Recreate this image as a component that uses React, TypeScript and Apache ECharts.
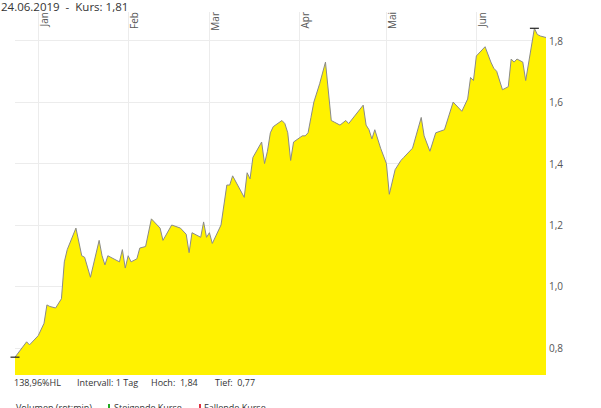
import React, { useEffect, useRef } from "react";
import * as echarts from "echarts";

const dates = [
  "2018-12-24", "2018-12-28", "2018-12-29", "2019-01-01", "2019-01-03", "2019-01-04", "2019-01-05",
  "2019-01-07", "2019-01-09", "2019-01-10", "2019-01-11", "2019-01-14", "2019-01-16", "2019-01-17",
  "2019-01-19", "2019-01-22", "2019-01-23", "2019-01-24", "2019-01-25", "2019-01-29", "2019-01-30",
  "2019-01-31", "2019-02-01", "2019-02-02", "2019-02-04", "2019-02-05", "2019-02-07", "2019-02-09",
  "2019-02-12", "2019-02-13", "2019-02-16", "2019-02-19", "2019-02-21", "2019-02-22", "2019-02-23",
  "2019-02-26", "2019-02-27", "2019-02-28", "2019-03-01", "2019-03-02", "2019-03-05", "2019-03-07",
  "2019-03-08", "2019-03-09", "2019-03-13", "2019-03-14", "2019-03-15", "2019-03-16", "2019-03-19",
  "2019-03-20", "2019-03-21", "2019-03-22", "2019-03-23", "2019-03-26", "2019-03-27", "2019-03-28",
  "2019-03-29", "2019-03-30", "2019-04-02", "2019-04-03", "2019-04-04", "2019-04-05", "2019-04-06",
  "2019-04-08", "2019-04-10", "2019-04-12", "2019-04-13", "2019-04-15", "2019-04-17", "2019-04-18",
  "2019-04-23", "2019-04-24", "2019-04-25", "2019-04-26", "2019-04-27", "2019-04-29", "2019-05-01",
  "2019-05-02", "2019-05-04", "2019-05-06", "2019-05-07", "2019-05-10", "2019-05-13", "2019-05-14",
  "2019-05-16", "2019-05-18", "2019-05-21", "2019-05-24", "2019-05-27", "2019-05-29", "2019-05-30",
  "2019-05-31", "2019-06-01", "2019-06-04", "2019-06-06", "2019-06-07", "2019-06-08", "2019-06-10",
  "2019-06-12", "2019-06-13", "2019-06-14", "2019-06-15", "2019-06-17", "2019-06-18", "2019-06-21",
  "2019-06-22", "2019-06-23", "2019-06-25",
];

const kurs = [
  0.77, 0.82, 0.81, 0.84, 0.88, 0.94, 0.935,
  0.93, 0.96, 1.08, 1.12, 1.19, 1.10, 1.095,
  1.03, 1.15, 1.10, 1.07, 1.10, 1.08, 1.12,
  1.06, 1.10, 1.08, 1.09, 1.125, 1.13, 1.22,
  1.19, 1.15, 1.20, 1.19, 1.17, 1.11, 1.175,
  1.16, 1.21, 1.16, 1.175, 1.14, 1.20, 1.33,
  1.33, 1.36, 1.29, 1.37, 1.35, 1.42, 1.47,
  1.40, 1.44, 1.50, 1.52, 1.54, 1.53, 1.50,
  1.41, 1.47, 1.49, 1.49, 1.50, 1.55, 1.60,
  1.66, 1.73, 1.54, 1.535, 1.525, 1.54, 1.53,
  1.59, 1.525, 1.51, 1.48, 1.51, 1.45, 1.40,
  1.30, 1.38, 1.41, 1.42, 1.45, 1.55, 1.49,
  1.44, 1.50, 1.51, 1.60, 1.57, 1.61, 1.68,
  1.67, 1.75, 1.78, 1.73, 1.71, 1.70, 1.64,
  1.65, 1.74, 1.73, 1.74, 1.73, 1.67, 1.84,
  1.82, 1.815, 1.81,
];

const monthTicks = ["2019-01-01", "2019-02-01", "2019-03-01", "2019-04-01", "2019-05-01", "2019-06-01"];
const monthLabels = ["Jan", "Feb", "Mar", "Apr", "Mai", "Jun"];
const headerDate = "24.06.2019";
const intervalText = "Intervall: 1 Tag";
const legendTexts = ["Volumen (rot:min)", "Steigende Kurse", "Fallende Kurse"];

const Y_MIN = 0.712;
const Y_MAX = 1.893;

const FONT = "'Open Sans', 'Noto Sans', sans-serif";
const de = (v: number, d: number) => v.toFixed(d).replace(".", ",");

export default function App() {
  const ref = useRef<HTMLDivElement>(null);

  useEffect(() => {
    if (!ref.current) return;
    const chart = echarts.init(ref.current, undefined, { renderer: "svg" });

    const data = dates.map((d, i) => [d, kurs[i]]);
    const hi = Math.max(...kurs);
    const lo = Math.min(...kurs);
    const hiIdx = kurs.indexOf(hi);
    const loIdx = kurs.indexOf(lo);
    const last = kurs[kurs.length - 1];
    const hlPct = (hi / lo - 1) * 100;

    const day = 24 * 3600 * 1000;
    const infoStyle = { fontSize: 9, fill: "#333", fontFamily: FONT };

    chart.setOption({
      animation: false,
      textStyle: { fontFamily: FONT },
      grid: { left: 15, right: 55, top: 12, bottom: 33, containLabel: false },
      xAxis: {
        type: "time",
        position: "top",
        min: dates[0],
        max: dates[dates.length - 1],
        minInterval: 28 * day,
        maxInterval: 31 * day,
        axisLine: { show: false },
        axisTick: { show: false },
        axisLabel: { show: false },
        splitLine: { show: true, showMinLine: false, showMaxLine: false, lineStyle: { color: "#ececec", width: 1 } },
      },
      yAxis: {
        type: "value",
        position: "right",
        min: Y_MIN,
        max: Y_MAX,
        splitNumber: 5,
        axisLine: { show: false },
        axisTick: { show: false },
        splitLine: { show: true, showMinLine: false, showMaxLine: false, lineStyle: { color: "#ececec", width: 1 } },
        axisLabel: {
          margin: 3,
          fontSize: 10,
          color: "#555",
          fontFamily: FONT,
          showMinLabel: false,
          showMaxLabel: false,
          formatter: (v: number) => de(v, 1),
        },
      },
      series: [
        {
          type: "line",
          data,
          symbol: "none",
          showSymbol: false,
          clip: false,
          lineStyle: { color: "#8a8a8a", width: 1 },
          areaStyle: { color: "#fff200", opacity: 1, origin: "start" },
          markPoint: {
            symbol: "rect",
            symbolSize: [9, 1.2],
            itemStyle: { color: "#222" },
            label: { show: false },
            silent: true,
            data: [
              { coord: [dates[hiIdx], hi] },
              { coord: [dates[loIdx], lo] },
            ],
          },
        },
        {
          type: "custom",
          silent: true,
          clip: false,
          z: 5,
          data: monthTicks.map((d) => [d, Y_MAX]),
          renderItem: (params: any, api: any) => {
            const p = api.coord([api.value(0), api.value(1)]);
            return {
              type: "text",
              x: p[0] + 0.5,
              y: p[1],
              rotation: Math.PI / 2,
              style: {
                text: monthLabels[params.dataIndex],
                align: "right",
                verticalAlign: "top",
                fontSize: 10,
                fill: "#555",
                fontFamily: FONT,
              },
            };
          },
        },
      ],
      graphic: [
        {
          type: "text",
          left: 1,
          top: 0,
          style: { text: `${headerDate}  -  Kurs: ${de(last, 2)}`, fontSize: 11.5, fill: "#333", fontFamily: FONT },
        },
        { type: "text", left: 14, top: 378, style: { text: `${de(hlPct, 2)}%HL`, ...infoStyle } },
        { type: "text", left: 77, top: 378, style: { text: intervalText, ...infoStyle } },
        { type: "text", left: 151, top: 378, style: { text: `Hoch:  ${de(hi, 2)}`, ...infoStyle } },
        { type: "text", left: 215, top: 378, style: { text: `Tief:  ${de(lo, 2)}`, ...infoStyle } },
        { type: "text", left: 16, top: 403, style: { text: legendTexts[0], ...infoStyle } },
        { type: "rect", shape: { x: 108, y: 404, width: 2, height: 5 }, style: { fill: "#22aa22" } },
        { type: "text", left: 114, top: 403, style: { text: legendTexts[1], ...infoStyle } },
        { type: "rect", shape: { x: 199, y: 404, width: 2, height: 5 }, style: { fill: "#e03040" } },
        { type: "text", left: 204, top: 403, style: { text: legendTexts[2], ...infoStyle } },
      ],
    });

    return () => chart.dispose();
  }, []);

  return (
    <div
      ref={ref}
      style={{ position: "fixed", left: 0, top: 0, width: 601, height: 408, background: "#fff" }}
    />
  );
}
